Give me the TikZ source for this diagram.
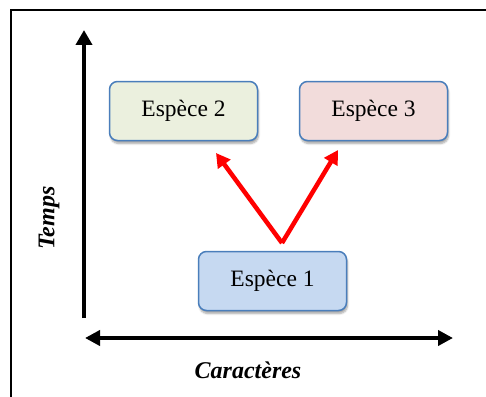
\documentclass[tikz,border=0pt]{standalone}
\usepackage{fontspec}
\setmainfont{Liberation Serif}
\usetikzlibrary{arrows.meta,shadows.blur}
\definecolor{boxborder}{HTML}{4A7EBB}
\definecolor{fillA}{HTML}{C6D9F1}
\definecolor{fillB}{HTML}{EBF0DE}
\definecolor{fillC}{HTML}{F2DCDB}
\tikzset{
  especebox/.style={draw=boxborder, line width=1.5pt, rounded corners=8pt,
    minimum width=148pt, minimum height=59pt, inner sep=0pt,
    font=\fontsize{23.5}{26}\selectfont,
    blur shadow={shadow xshift=1pt, shadow yshift=-3pt, shadow blur steps=6, shadow opacity=35}},
  axisarrow/.style={line width=4pt, -{Triangle[length=15pt,width=16pt]}},
  axisboth/.style={line width=4pt, {Triangle[length=15pt,width=15pt]}-{Triangle[length=15pt,width=15pt]}},
  redarrow/.style={draw=red, line width=4.5pt, line join=miter, -{Triangle[length=14pt,width=15pt]}},
  axislabel/.style={font=\fontsize{24}{26}\selectfont\bfseries\itshape, inner sep=0pt}
}
\begin{document}
\begin{tikzpicture}[x=1pt,y=-1pt]
\useasboundingbox (0,0) rectangle (486,396);
% frame
\draw[line width=2pt] (10.5,397) -- (10.5,10) -- (487,10);
% axes
\coordinate (yb) at (84,318);
\coordinate (yt) at (84,30);
\coordinate (xl) at (85,338);
\coordinate (xr) at (453,338);
\draw[axisarrow] (yb) -- (yt);
\draw[axisboth] (xl) -- (xr);
\node[axislabel, rotate=90] (temps) at (49,218) {Temps};
\node[axislabel] (car) at (248,370) {Caractères};
% boxes
\node[especebox, fill=fillB] (e2) at (183.5,111) {Espèce 2};
\node[especebox, fill=fillC] (e3) at (373.5,111) {Espèce 3};
\node[especebox, fill=fillA] (e1) at (272.5,281) {Espèce 1};
% red arrows
\coordinate (v) at (282,243);
\coordinate (t2) at (216,153);
\coordinate (t3) at (338,150);
\draw[redarrow] (v) -- (t2);
\draw[redarrow] (v) -- (t3);
\end{tikzpicture}
\end{document}
